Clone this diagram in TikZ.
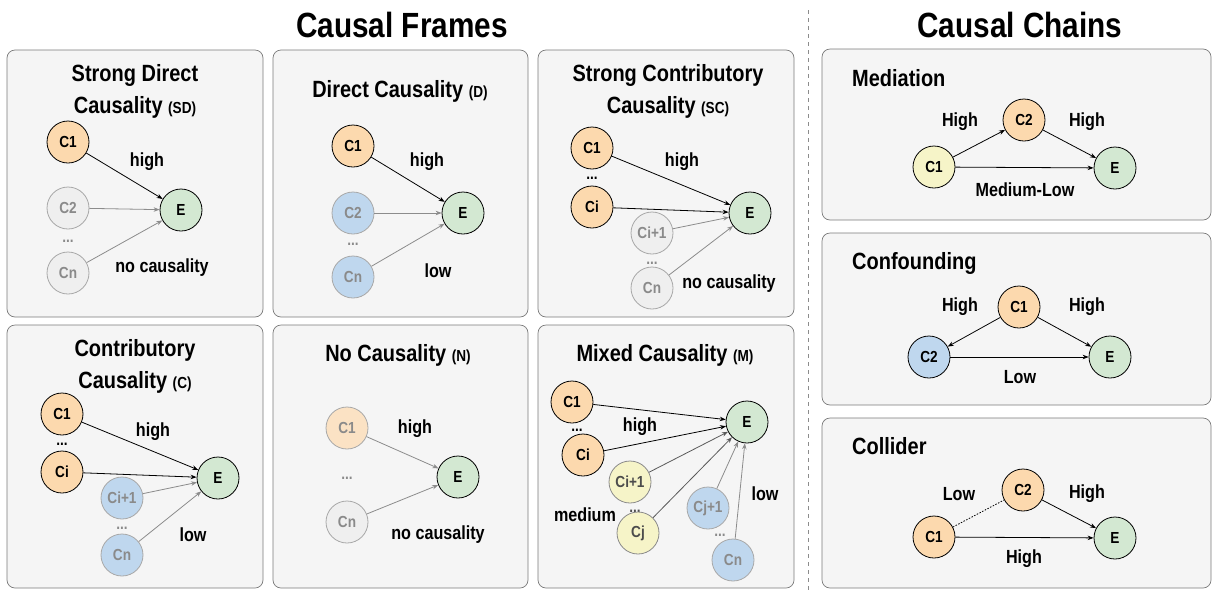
\documentclass[tikz,border=0pt]{standalone}
\usepackage{fontspec}
\setmainfont{Liberation Sans}[FakeStretch=0.85]
\usetikzlibrary{arrows.meta}
\definecolor{orangec}{HTML}{FCD9AE}
\definecolor{orangef}{HTML}{FBE2C4}
\definecolor{greenc}{HTML}{D3E8D2}
\definecolor{bluec}{HTML}{BFD7EE}
\definecolor{yellowc}{HTML}{F6F4C8}
\definecolor{grayc}{HTML}{EFEFEF}
\definecolor{boxfill}{HTML}{F5F5F5}
\definecolor{boxline}{HTML}{7A7A7A}
\definecolor{fadeline}{HTML}{A8A8A8}
\definecolor{fadetext}{HTML}{8A8A8A}
\definecolor{arrgray}{HTML}{8C8C8C}
\newcommand{\smpar}[1]{{\fontsize{16}{16}\selectfont #1}}
\begin{document}
\begin{tikzpicture}[x=1pt,y=-1pt,
  panel/.style={draw=boxline, fill=boxfill, rounded corners=8pt, line width=0.7pt},
  nd/.style={circle, minimum size=42pt, inner sep=0pt, line width=0.8pt, font=\fontsize{16}{16}\selectfont\bfseries},
  act/.style={nd, draw=black, text=black},
  fad/.style={nd, draw=fadeline, text=fadetext},
  arr/.style={-{Stealth[length=6pt,width=4.5pt]}, line width=0.8pt, black},
  farr/.style={-{Stealth[length=6pt,width=4.5pt]}, line width=0.8pt, arrgray},
  lbl/.style={inner sep=0pt, font=\fontsize{19}{19}\selectfont\bfseries},
  ttl/.style={inner sep=0pt, align=center, font=\fontsize{23.5}{32}\selectfont\bfseries},
  ctl/.style={inner sep=0pt, anchor=west, font=\fontsize{23.5}{28}\selectfont\bfseries},
  big/.style={inner sep=0pt, font=\fontsize{35}{40}\selectfont\bfseries},
  dots/.style={inner sep=0pt, anchor=base, font=\fontsize{16}{16}\selectfont\bfseries}
]
\useasboundingbox (0,0) rectangle (1213,590);

% headings and divider
\node[big] (hf) at (402,25) {Causal Frames};
\node[big] (hc) at (1020,25) {Causal Chains};
\coordinate (dv1) at (808,10);
\coordinate (dv2) at (808,590);
\draw[line width=0.9pt, arrgray, dash pattern=on 4pt off 4pt] (dv1) -- (dv2);

% panels
\draw[panel] (7,50) rectangle (263,317);
\draw[panel] (273,50) rectangle (528,317);
\draw[panel] (538,50) rectangle (794,317);
\draw[panel] (7,325) rectangle (263,588);
\draw[panel] (273,325) rectangle (528,588);
\draw[panel] (538,325) rectangle (794,588);
\draw[panel] (822,49) rectangle (1211,220);
\draw[panel] (822,233) rectangle (1211,405);
\draw[panel] (822,418) rectangle (1211,588);

% ---- Panel 1: Strong Direct Causality
\node[ttl] (ta) at (135,91) {Strong Direct\\Causality \smpar{(SD)}};
\node[act, fill=orangec] (a1) at (68,142) {C1};
\node[fad, fill=grayc] (a2) at (68,208) {C2};
\node[dots, text=fadetext] (ad) at (68,242) {...};
\node[fad, fill=grayc] (an) at (68,273) {Cn};
\node[act, fill=greenc] (ae) at (181,210) {E};
\draw[arr] (a1) -- (ae);
\draw[farr] (a2) -- (ae);
\draw[farr] (an) -- (ae);
\node[lbl] (al1) at (147,162) {high};
\node[lbl] (al2) at (162,268) {no causality};

% ---- Panel 2: Direct Causality
\node[ttl] (tb) at (400,91) {Direct Causality \smpar{(D)}};
\node[act, fill=orangec] (b1) at (353,146) {C1};
\node[fad, fill=bluec] (b2) at (353,213) {C2};
\node[dots, text=fadetext] (bd) at (353,245) {...};
\node[fad, fill=bluec] (bn) at (353,277) {Cn};
\node[act, fill=greenc] (be) at (463,213) {E};
\draw[arr] (b1) -- (be);
\draw[farr] (b2) -- (be);
\draw[farr] (bn) -- (be);
\node[lbl] (bl1) at (427,162) {high};
\node[lbl] (bl2) at (438,271) {low};

% ---- Panel 3: Strong Contributory Causality
\node[ttl] (tc) at (668,91) {Strong Contributory\\Causality \smpar{(SC)}};
\node[act, fill=orangec] (c1) at (592,148) {C1};
\node[dots] (cd1) at (592,179) {...};
\node[act, fill=orangec] (ci) at (592,207) {Ci};
\node[fad, fill=grayc] (cj) at (652,233) {Ci+1};
\node[dots, text=fadetext] (cd2) at (652,264) {...};
\node[fad, fill=grayc] (cn) at (652,288) {Cn};
\node[act, fill=greenc] (ce) at (750,213) {E};
\draw[arr] (c1) -- (ce);
\draw[arr] (ci) -- (ce);
\draw[farr] (cj) -- (ce);
\draw[farr] (cn) -- (ce);
\node[lbl] (cl1) at (682,162) {high};
\node[lbl] (cl2) at (729,284) {no causality};

% ---- Panel 4: Contributory Causality
\node[ttl] (td) at (135,366) {Contributory\\Causality \smpar{(C)}};
\node[act, fill=orangec] (d1) at (62,414) {C1};
\node[dots] (dd1) at (62,445) {...};
\node[act, fill=orangec] (di) at (62,472) {Ci};
\node[fad, fill=bluec] (dj) at (122,498) {Ci+1};
\node[dots, text=fadetext] (dd2) at (122,529) {...};
\node[fad, fill=bluec] (dn) at (122,555) {Cn};
\node[act, fill=greenc] (de) at (218,478) {E};
\draw[arr] (d1) -- (de);
\draw[arr] (di) -- (de);
\draw[farr] (dj) -- (de);
\draw[farr] (dn) -- (de);
\node[lbl] (dl1) at (153,432) {high};
\node[lbl] (dl2) at (193,535) {low};

% ---- Panel 5: No Causality
\node[ttl] (te) at (398,355) {No Causality \smpar{(N)}};
\node[fad, fill=orangef] (e1) at (347,428) {C1};
\node[dots, text=fadetext] (ed) at (347,479) {...};
\node[fad, fill=grayc] (en) at (347,522) {Cn};
\node[act, fill=greenc] (ee) at (458,477) {E};
\draw[farr] (e1) -- (ee);
\draw[farr] (en) -- (ee);
\node[lbl] (el1) at (415,429) {high};
\node[lbl] (el2) at (438,535) {no causality};

% ---- Panel 6: Mixed Causality
\node[ttl] (tf) at (665,355) {Mixed Causality \smpar{(M)}};
\node[act, fill=orangec] (f1) at (572,402) {C1};
\node[dots] (fd1) at (577,431) {...};
\node[act, fill=orangec] (fi) at (583,455) {Ci};
\node[fad, draw=fadetext, text=black!70, fill=yellowc] (fj) at (630,482) {Ci+1};
\node[dots, text=black!70] (fd2) at (635,512) {...};
\node[fad, draw=fadetext, text=black!70, fill=yellowc] (fk) at (638,533) {Cj};
\node[fad, fill=bluec] (fl) at (708,508) {Cj+1};
\node[dots, text=fadetext] (fd3) at (720,536) {...};
\node[fad, fill=bluec] (fn) at (733,560) {Cn};
\node[act, fill=greenc] (fe) at (747,422) {E};
\draw[arr] (f1) -- (fe);
\draw[arr] (fi) -- (fe);
\draw[farr, draw=black!65] (fj) -- (fe);
\draw[farr, draw=black!65] (fk) -- (fe);
\draw[farr] (fl) -- (fe);
\draw[farr] (fn) -- (fe);
\node[lbl] (fl1) at (640,427) {high};
\node[lbl] (fl2) at (585,515) {medium};
\node[lbl] (fl3) at (765,494) {low};

% ---- Mediation
\node[ctl] (tm) at (852,78) {Mediation};
\node[act, fill=yellowc] (m1) at (934,167) {C1};
\node[act, fill=orangec] (m2) at (1024,120) {C2};
\node[act, fill=greenc] (me) at (1115,168) {E};
\draw[arr] (m1) -- (m2);
\draw[arr] (m2) -- (me);
\draw[arr] (m1) -- (me);
\node[lbl] (ml1) at (960,122) {High};
\node[lbl] (ml2) at (1087,122) {High};
\node[lbl] (ml3) at (1025,190) {Medium-Low};

% ---- Confounding
\node[ctl] (tn) at (852,263) {Confounding};
\node[act, fill=orangec] (n1) at (1019,307) {C1};
\node[act, fill=bluec] (n2) at (929,357) {C2};
\node[act, fill=greenc] (ne) at (1110,357) {E};
\draw[arr] (n1) -- (n2);
\draw[arr] (n1) -- (ne);
\draw[arr] (n2) -- (ne);
\node[lbl] (nl1) at (960,307) {High};
\node[lbl] (nl2) at (1087,307) {High};
\node[lbl] (nl3) at (1020,377) {Low};

% ---- Collider
\node[ctl] (to) at (852,446) {Collider};
\node[act, fill=orangec] (o1) at (934,537) {C1};
\node[act, fill=orangec] (o2) at (1023,490) {C2};
\node[act, fill=greenc] (oe) at (1115,538) {E};
\draw[line width=0.8pt, dash pattern=on 1.5pt off 1.5pt] (o1) -- (o2);
\draw[arr] (o2) -- (oe);
\draw[arr] (o1) -- (oe);
\node[lbl] (ol1) at (959,494) {Low};
\node[lbl] (ol2) at (1087,494) {High};
\node[lbl] (ol3) at (1024,559) {High};
\end{tikzpicture}
\end{document}
